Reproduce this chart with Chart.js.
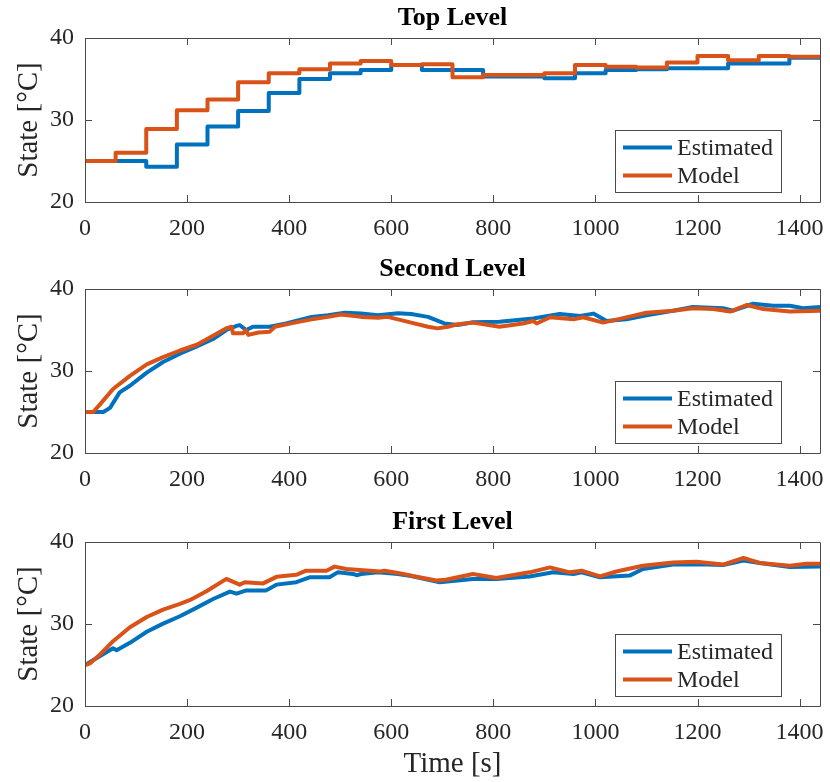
<!DOCTYPE html>
<html>
<head>
<meta charset="utf-8">
<script src="https://cdn.jsdelivr.net/npm/chart.js@4.4.0/dist/chart.umd.min.js"></script>
<style>
  body { margin: 0; background: #fff; }
  #wrap { position: relative; width: 830px; height: 782px; }
  canvas { position: absolute; left: 0; }
</style>
</head>
<body>
<div id="wrap">
  <canvas id="topChart" style="top:0px"></canvas>
  <canvas id="secondChart" style="top:251px"></canvas>
  <canvas id="firstChart" style="top:504px"></canvas>
</div>
<script>
// ---- data ----
// Top Level: values hold from each time until the next one
const tTop   = [0, 60, 120, 180, 240, 300, 360, 420, 480, 540, 600, 660, 720, 780, 840, 900, 960, 1020, 1080, 1140, 1200, 1260, 1320, 1380, 1440];
const estTop = [25, 25, 24.3, 27.0, 29.2, 31.1, 33.3, 35.0, 35.7, 36.1, 36.7, 36.1, 36.1, 35.3, 35.3, 35.1, 35.7, 36.1, 36.2, 36.3, 36.3, 36.9, 36.9, 37.6, 37.6];
const modTop = [25, 26.0, 28.9, 31.2, 32.5, 34.6, 35.7, 36.2, 36.9, 37.2, 36.7, 36.8, 35.2, 35.5, 35.5, 35.7, 36.7, 36.5, 36.4, 37.0, 37.8, 37.3, 37.8, 37.7, 37.7];

// Second Level
const tSecEst = [0, 36, 49, 68, 88, 121, 153, 186, 219, 251, 277, 297, 303, 316, 329, 362, 394, 444, 476, 509, 541, 574, 613, 639, 672, 704, 730, 760, 812, 878, 930, 970, 996, 1022, 1061, 1100, 1152, 1191, 1250, 1270, 1309, 1348, 1381, 1407, 1440];
const estSec  = [25.0, 25.0, 25.5, 27.4, 28.2, 29.8, 31.1, 32.1, 33.0, 33.9, 35.0, 35.5, 35.6, 35.0, 35.4, 35.4, 35.8, 36.6, 36.8, 37.1, 37.0, 36.8, 37.05, 36.95, 36.6, 35.8, 35.6, 35.95, 36.0, 36.4, 36.95, 36.7, 37.0, 36.1, 36.3, 36.8, 37.35, 37.8, 37.65, 37.35, 38.2, 37.95, 37.95, 37.65, 37.8];
const tSecMod = [0, 16, 29, 55, 88, 121, 153, 186, 219, 251, 277, 287, 290, 310, 315, 320, 340, 362, 372, 411, 444, 476, 502, 541, 574, 593, 613, 639, 672, 691, 711, 730, 760, 812, 858, 878, 885, 911, 957, 976, 1015, 1054, 1100, 1152, 1191, 1231, 1264, 1296, 1329, 1381, 1440];
const modSec  = [25.0, 25.0, 25.9, 27.8, 29.4, 30.8, 31.7, 32.5, 33.2, 34.3, 35.2, 35.4, 34.6, 34.6, 35.0, 34.4, 34.7, 34.8, 35.4, 35.9, 36.3, 36.6, 36.9, 36.6, 36.5, 36.6, 36.3, 35.9, 35.4, 35.2, 35.4, 35.7, 35.9, 35.4, 35.8, 36.1, 35.8, 36.55, 36.3, 36.55, 35.9, 36.45, 37.1, 37.35, 37.65, 37.55, 37.25, 38.05, 37.55, 37.25, 37.35];

// First Level
const tFirEst = [0, 23, 55, 62, 88, 121, 153, 186, 219, 251, 284, 297, 316, 355, 375, 414, 440, 479, 495, 525, 532, 541, 574, 613, 639, 695, 760, 806, 871, 917, 957, 973, 1009, 1067, 1093, 1152, 1204, 1250, 1290, 1322, 1381, 1440];
const estFir  = [25.0, 25.85, 27.05, 26.8, 27.7, 29.05, 30.05, 30.95, 32.0, 33.05, 33.95, 33.7, 34.1, 34.1, 34.8, 35.1, 35.7, 35.7, 36.3, 36.1, 35.95, 36.1, 36.3, 36.1, 35.85, 35.1, 35.5, 35.5, 35.8, 36.3, 36.1, 36.3, 35.7, 35.9, 36.7, 37.25, 37.3, 37.2, 37.75, 37.45, 36.95, 37.0];
const tFirMod = [0, 10, 29, 55, 88, 121, 153, 186, 205, 238, 277, 303, 313, 349, 375, 414, 433, 473, 489, 512, 578, 587, 616, 642, 688, 707, 760, 806, 871, 911, 950, 973, 1009, 1041, 1093, 1152, 1198, 1250, 1290, 1322, 1381, 1413, 1440];
const modFir  = [25.0, 25.2, 26.25, 27.9, 29.6, 30.85, 31.75, 32.45, 32.9, 34.0, 35.5, 34.8, 35.1, 34.95, 35.75, 36.0, 36.5, 36.5, 37.0, 36.7, 36.4, 36.5, 36.2, 35.85, 35.3, 35.4, 36.1, 35.6, 36.3, 36.9, 36.3, 36.5, 35.8, 36.4, 37.1, 37.5, 37.6, 37.25, 38.05, 37.45, 37.1, 37.35, 37.35];

const xTicks = [0, 200, 400, 600, 800, 1000, 1200, 1400];
const yTicks = [20, 30, 40];
const seriesNames = ["Estimated", "Model"];

const BLUE = "#0072BD";
const ORANGE = "#D95319";
const AXIS = "#4a4a4a";
const TEXT = "#262626";

Chart.defaults.font.family = "'Liberation Serif', 'Times New Roman', serif";
Chart.defaults.color = TEXT;

function pairs(ts, vs) {
    return ts.map((t, i) => ({ x: t, y: vs[i] }));
}

// MATLAB-like box with inward ticks on all four sides
const boxPlugin = {
    id: "matlabBox",
    afterDatasetsDraw(chart) {
        const { ctx, chartArea: a } = chart;
        const x = chart.scales.x, y = chart.scales.y;
        const len = 7;
        ctx.save();
        ctx.strokeStyle = AXIS;
        ctx.lineWidth = 1;
        ctx.beginPath();
        ctx.rect(Math.round(a.left) + 0.5, Math.round(a.top) + 0.5, Math.round(a.width), Math.round(a.height));
        x.ticks.forEach(t => {
            let px = Math.round(x.getPixelForValue(t.value)) + 0.5;
            ctx.moveTo(px, a.bottom); ctx.lineTo(px, a.bottom - len);
            ctx.moveTo(px, a.top); ctx.lineTo(px, a.top + len);
        });
        y.ticks.forEach(t => {
            let py = Math.round(y.getPixelForValue(t.value)) + 0.5;
            ctx.moveTo(a.left, py); ctx.lineTo(a.left + len, py);
            ctx.moveTo(a.right, py); ctx.lineTo(a.right - len, py);
        });
        ctx.stroke();
        ctx.restore();
    }
};

// legend box in the lower right corner of the plot
const legendPlugin = {
    id: "cornerLegend",
    afterDraw(chart) {
        const { ctx, chartArea: a } = chart;
        const w = 166, h = 62;
        const left = Math.round(a.right - 39 - w), top = Math.round(a.bottom - 10 - h);
        ctx.save();
        ctx.fillStyle = "#fff";
        ctx.fillRect(left, top, w, h);
        ctx.strokeStyle = AXIS;
        ctx.lineWidth = 1;
        ctx.strokeRect(left + 0.5, top + 0.5, w, h);
        ctx.font = "24px 'Liberation Serif', 'Times New Roman', serif";
        ctx.textBaseline = "middle";
        ctx.fillStyle = TEXT;
        chart.data.datasets.forEach((ds, i) => {
            let ry = top + 17.5 + i * 28;
            ctx.strokeStyle = ds.borderColor;
            ctx.lineWidth = 4;
            ctx.beginPath();
            ctx.moveTo(left + 8, ry);
            ctx.lineTo(left + 57, ry);
            ctx.stroke();
            ctx.fillText(ds.label, left + 62, ry + 1);
        });
        ctx.restore();
    }
};

function makeChart(id, title, est, mod, stepped, height, showXTitle) {
    let canvas = document.getElementById(id);
    canvas.width = 830;
    canvas.height = height;
    canvas.style.width = "830px";
    canvas.style.height = height + "px";
    let bottomSpace = height - 202;
    return new Chart(canvas.getContext("2d"), {
        type: "line",
        data: {
            datasets: [
                { label: seriesNames[0], data: est, borderColor: BLUE, borderWidth: 4, pointRadius: 0, stepped: stepped, order: 2, borderJoinStyle: "round" },
                { label: seriesNames[1], data: mod, borderColor: ORANGE, borderWidth: 4, pointRadius: 0, stepped: stepped, order: 1, borderJoinStyle: "round" }
            ]
        },
        options: {
            responsive: false,
            animation: false,
            layout: { padding: { left: 0, right: 10, top: 0, bottom: 0 } },
            plugins: {
                legend: { display: false },
                tooltip: { enabled: false },
                title: {
                    display: true,
                    fullSize: false,
                    text: title,
                    font: { size: 26, weight: "bold" },
                    color: "#000",
                    padding: { top: 3, bottom: 3.8 }
                }
            },
            scales: {
                x: {
                    type: "linear",
                    min: 0,
                    max: 1440,
                    grid: { display: false, drawTicks: false },
                    border: { display: false },
                    ticks: { font: { size: 24 }, padding: 12, maxRotation: 0, autoSkip: false, callback: v => String(v) },
                    afterBuildTicks: s => { s.ticks = xTicks.map(v => ({ value: v })); },
                    afterFit: s => { s.height = bottomSpace; s.paddingLeft = 0; s.paddingRight = 0; },
                    title: {
                        display: showXTitle,
                        text: "Time [s]",
                        font: { size: 29 },
                        padding: { top: 0, bottom: 0 }
                    }
                },
                y: {
                    min: 20,
                    max: 40,
                    grid: { display: false, drawTicks: false },
                    border: { display: false },
                    ticks: { font: { size: 24 }, padding: 11, callback: v => String(v) },
                    afterBuildTicks: s => { s.ticks = yTicks.map(v => ({ value: v })); },
                    afterFit: s => { s.width = 85; s.paddingTop = 0; s.paddingBottom = 0; },
                    title: {
                        display: true,
                        text: "State [°C]",
                        font: { size: 29 },
                        padding: { top: 12, bottom: 0 }
                    }
                }
            }
        },
        plugins: [boxPlugin, legendPlugin]
    });
}

makeChart("topChart", "Top Level", pairs(tTop, estTop), pairs(tTop, modTop), "before", 251, false);
makeChart("secondChart", "Second Level", pairs(tSecEst, estSec), pairs(tSecMod, modSec), false, 253, false);
makeChart("firstChart", "First Level", pairs(tFirEst, estFir), pairs(tFirMod, modFir), false, 278, true);
</script>
</body>
</html>
